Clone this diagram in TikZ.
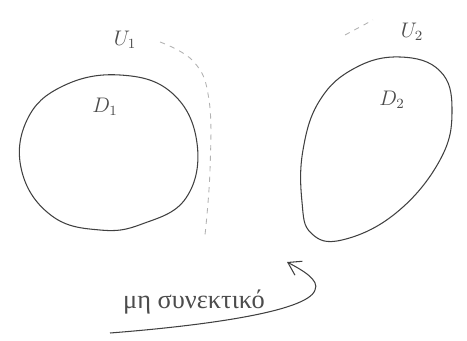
\documentclass[tikz,border=0pt]{standalone}
\usepackage{fontspec}
\newfontfamily\greekfont{Liberation Serif}
\usetikzlibrary{arrows.meta}

\begin{document}
\begin{tikzpicture}[x=0.02cm, y=-0.02cm,
    region/.style={draw=black!75, line width=0.6pt},
    nbhd/.style ={draw=black!30, dashed, line width=0.5pt},
    lbl/.style  ={font=\large, text=black!70},
    note/.style ={font=\greekfont\fontsize{15}{18}\selectfont, text=black!70}
  ]
  \useasboundingbox (0,0) rectangle (467,341);

  % Sets D1, D2
  \draw[region] plot[smooth cycle, tension=0.7] coordinates
    {(120,75) (172,93) (197,143) (186,198) (142,224) (100,230) (52,216) (22,172) (27,120) (63,86)};
  \draw[region] plot[smooth cycle, tension=0.7] coordinates
    {(400,57) (440,71) (452,110) (440,160) (396,213) (342,240) (311,233) (302,202) (303,150) (320,100) (355,68)};

  % Neighbourhoods U1, U2
  \draw[nbhd] plot[smooth, tension=0.7] coordinates
    {(160,42) (194,62) (209,100) (210,170) (205,235)};
  \draw[nbhd] (345,35) -- (373,20);

  % Labels
  \node[lbl] (d1) at (105,107) {$D_1$};
  \node[lbl] (d2) at (392,100) {$D_2$};
  \node[lbl] (u1) at (125,40)  {$U_1$};
  \node[lbl] (u2) at (412,32)  {$U_2$};
  \node[note] (nc) at (194,302) {μη συνεκτικό};

  % Arrow under the note
  \coordinate (start) at (110,333);
  \coordinate (turn)  at (315,290);
  \coordinate (tip)   at (287,262);
  \draw[black!75, line width=0.6pt, -{Straight Barb[length=7pt, width=9pt]}]
    (start) .. controls (200,326) and (308,312) .. (turn)
            .. controls (320,280) and (302,270) .. (tip);
\end{tikzpicture}
\end{document}
